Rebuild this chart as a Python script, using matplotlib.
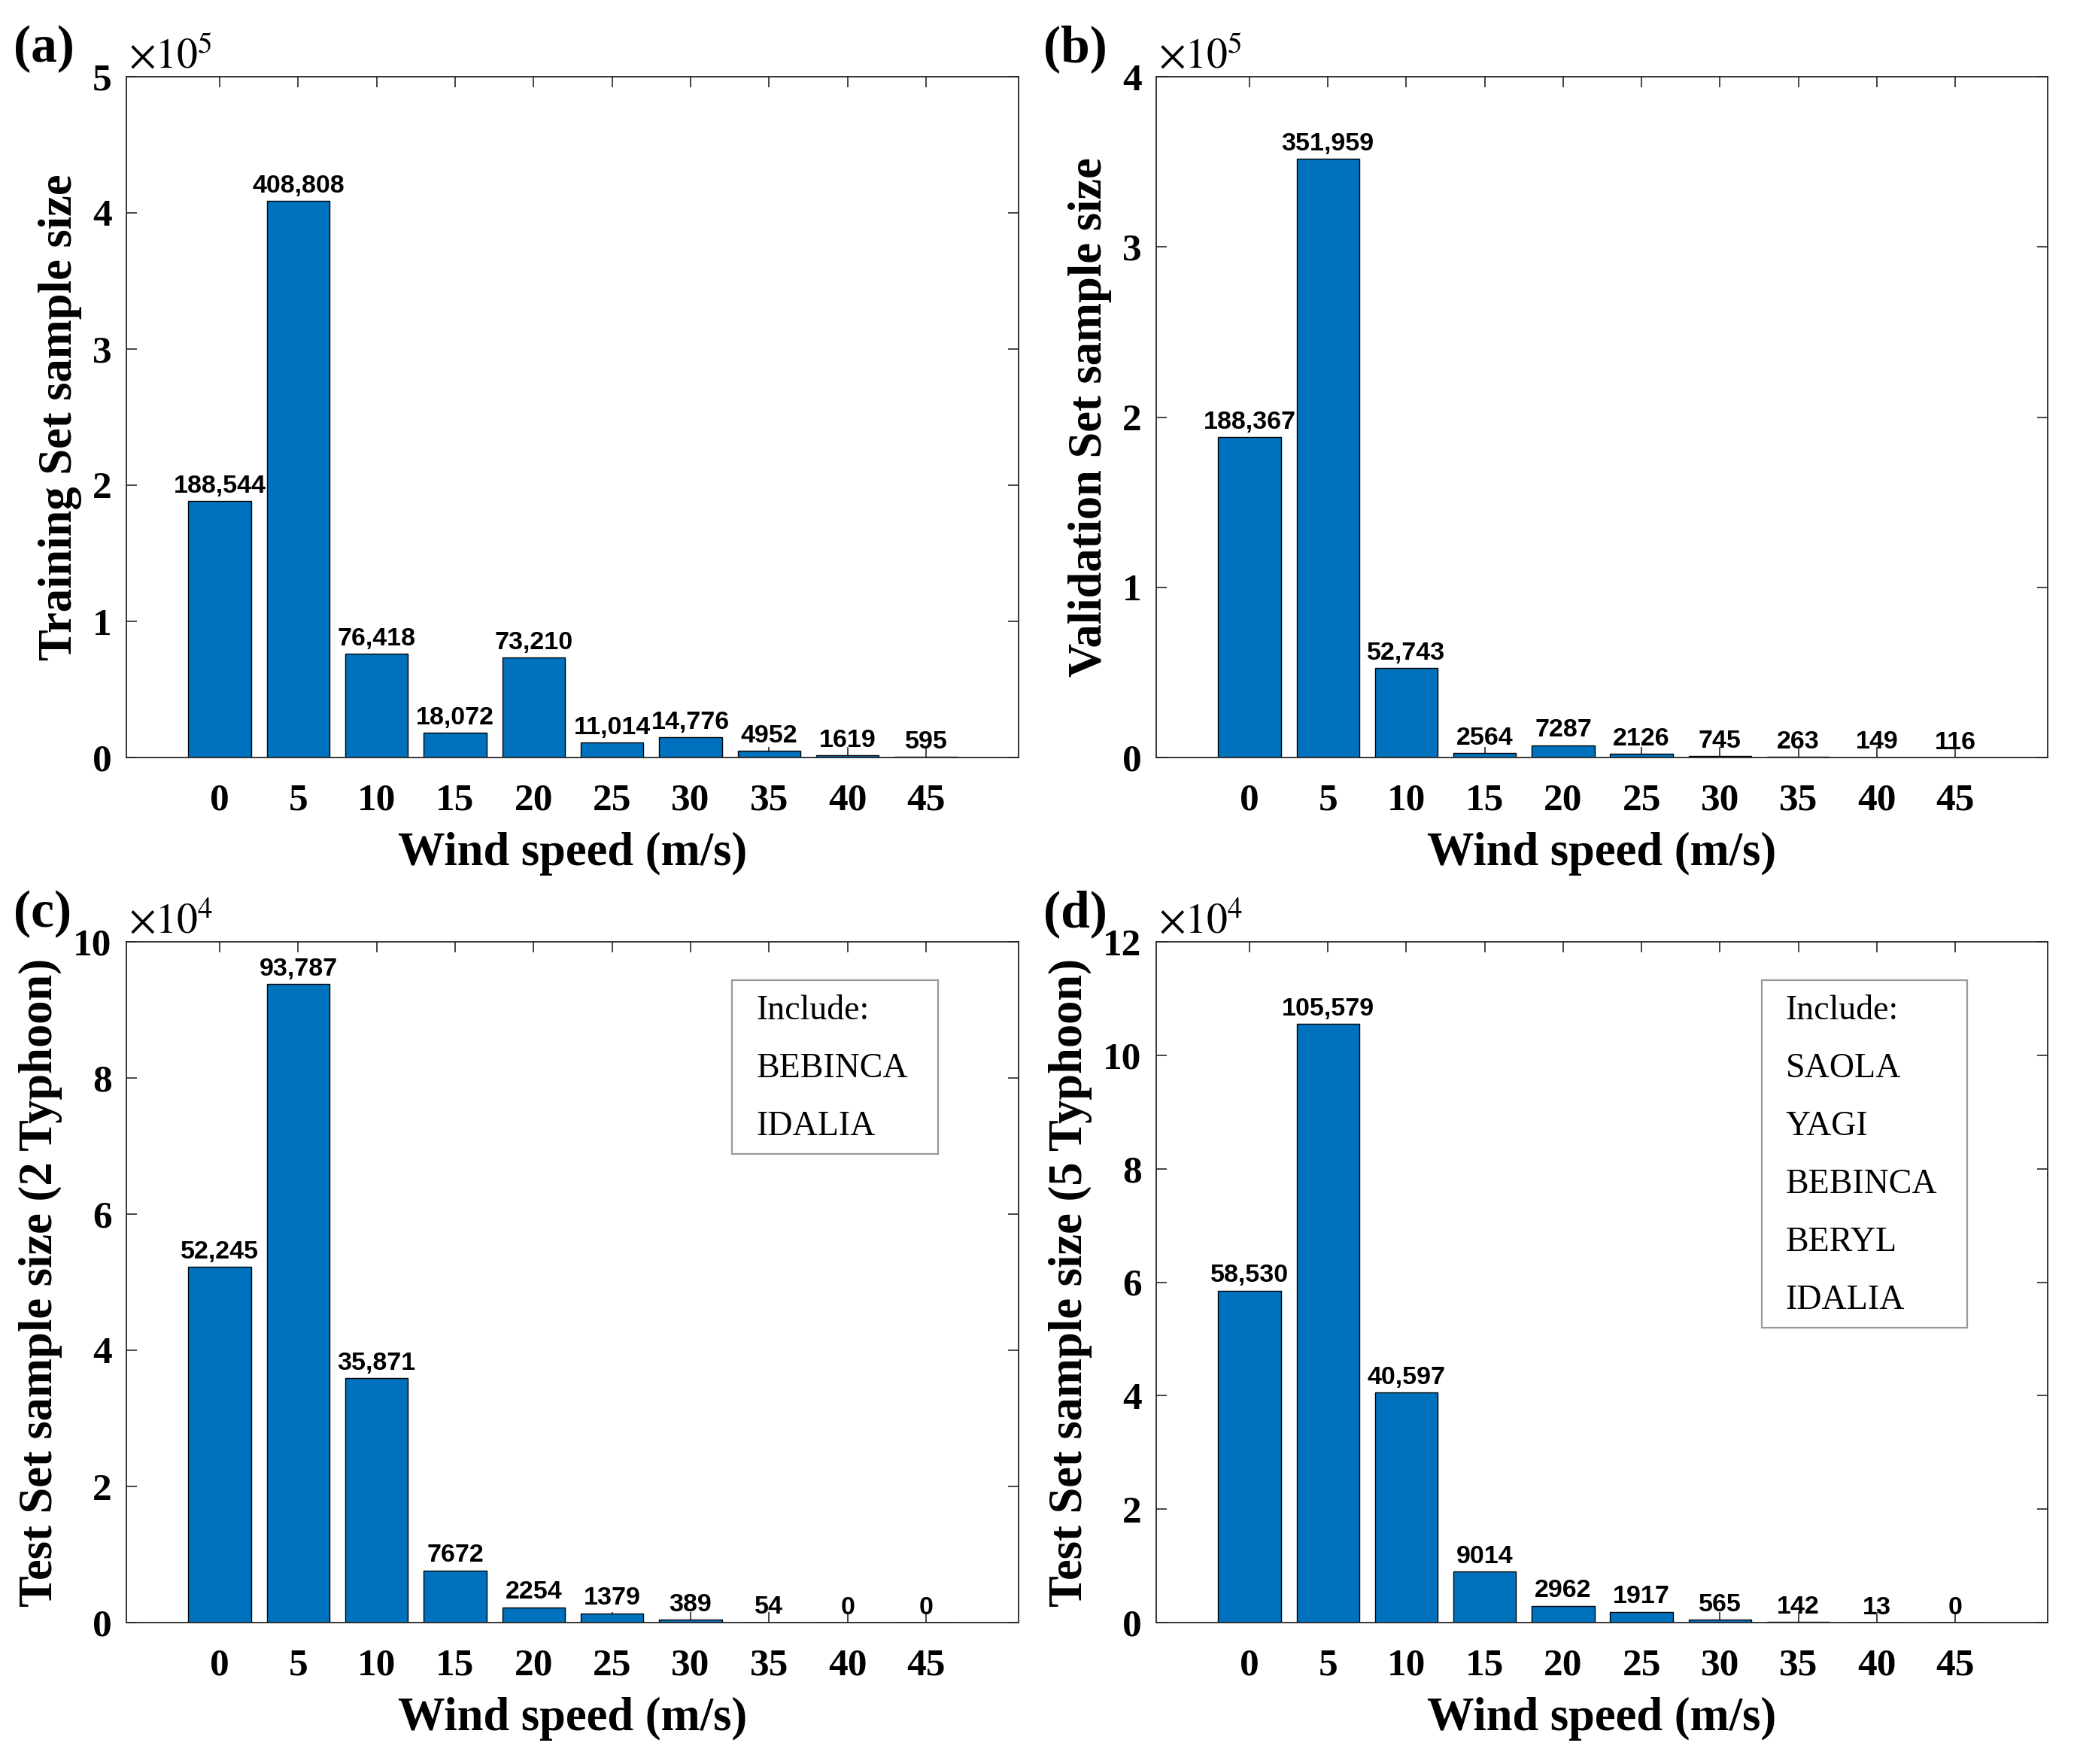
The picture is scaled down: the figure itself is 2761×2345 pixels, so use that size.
import numpy as np
import matplotlib
matplotlib.use('Agg')
import matplotlib.pyplot as plt
from matplotlib.patches import Rectangle

plt.rcParams['font.family'] = ['Liberation Serif', 'DejaVu Serif']
plt.rcParams['mathtext.fontset'] = 'stix'

speeds = ['0', '5', '10', '15', '20', '25', '30', '35', '40', '45']

train_counts = [188544, 408808, 76418, 18072, 73210, 11014, 14776, 4952, 1619, 595]
valid_counts = [188367, 351959, 52743, 2564, 7287, 2126, 745, 263, 149, 116]
test2_counts = [52245, 93787, 35871, 7672, 2254, 1379, 389, 54, 0, 0]
test5_counts = [58530, 105579, 40597, 9014, 2962, 1917, 565, 142, 13, 0]

test2_names = ['BEBINCA', 'IDALIA']
test5_names = ['SAOLA', 'YAGI', 'BEBINCA', 'BERYL', 'IDALIA']

BAR_COLOR = '#0072BD'
AX_COLOR = '#262626'

W, H = 2761, 2345
fig = plt.figure(figsize=(W / 100, H / 100), dpi=100)


def px_axes(x0, y0, x1, y1):
    # pixel box (top-left origin) -> figure fraction
    return fig.add_axes([x0 / W, 1 - y1 / H, (x1 - x0) / W, (y1 - y0) / H])


def fmt(v):
    return f'{v:,}' if v >= 10000 else str(v)


def panel(ax, counts, exp, ymax, ystep, ylabel, tag, names=None):
    x = np.arange(len(counts))
    scale = 10 ** exp
    vals = np.array(counts) / scale
    ax.bar(x, vals, width=0.8, color=BAR_COLOR, edgecolor='black', linewidth=1.0, zorder=2)
    for xi, v, c in zip(x, vals, counts):
        ax.annotate(fmt(c), (xi, v), xytext=(0, 3), textcoords='offset points',
                    ha='center', va='bottom', fontsize=24.5, fontweight='bold',
                    family=['Liberation Sans', 'DejaVu Sans'], color='black', zorder=3)
    ax.set_xlim(-1.19, 10.18)
    ax.set_ylim(0, ymax)
    ax.set_xticks(x)
    ax.set_xticklabels(speeds)
    ax.set_yticks(np.arange(0, ymax + 0.01, ystep))
    ax.tick_params(axis='both', direction='in', length=10, width=1.2, colors=AX_COLOR,
                   top=True, right=True, labelsize=37)
    ax.tick_params(axis='x', pad=25)
    ax.tick_params(axis='y', pad=14)
    for lab in ax.get_xticklabels() + ax.get_yticklabels():
        lab.set_fontweight('bold')
        lab.set_color('black')
    for s in ax.spines.values():
        s.set_linewidth(1.3)
        s.set_color(AX_COLOR)
    ax.set_xlabel('Wind speed (m/s)', fontsize=45, fontweight='bold', labelpad=13)
    ax.set_ylabel(ylabel, fontsize=45, fontweight='bold', labelpad=10)
    ax.annotate(r'$\times10^{%d}$' % exp, (0, 1), xycoords='axes fraction',
                xytext=(2, 8), textcoords='offset points', ha='left', va='baseline',
                fontsize=40, color='black')
    # panel tag
    bb = ax.get_position()
    fig.text(bb.x0 - 150 / W, bb.y1 + 20 / H, tag, fontsize=50, fontweight='bold',
             ha='left', va='baseline')
    if names:
        top = 0.944
        step = 0.0851
        bottom = top - step * (len(names) + 1)
        ax.add_patch(Rectangle((0.679, bottom), 0.231, top - bottom, transform=ax.transAxes,
                               facecolor='white', edgecolor='#999999', linewidth=1.6, zorder=4))
        lines = ['Include:'] + names
        for i, t in enumerate(lines):
            ax.text(0.706, top - 0.058 - i * step, t, transform=ax.transAxes,
                    fontsize=33, ha='left', va='baseline', zorder=5)


ax_a = px_axes(168, 102, 1354, 1007)
ax_b = px_axes(1537, 102, 2722, 1007)
ax_c = px_axes(168, 1252, 1354, 2157)
ax_d = px_axes(1537, 1252, 2722, 2157)

panel(ax_a, train_counts, 5, 5, 1, 'Training Set sample size', '(a)')
panel(ax_b, valid_counts, 5, 4, 1, 'Validation Set sample size', '(b)')
panel(ax_c, test2_counts, 4, 10, 2, 'Test Set sample size (2 Typhoon)', '(c)', test2_names)
panel(ax_d, test5_counts, 4, 12, 2, 'Test Set sample size (5 Typhoon)', '(d)', test5_names)

fig.savefig('out.png', dpi=100, facecolor='white')
